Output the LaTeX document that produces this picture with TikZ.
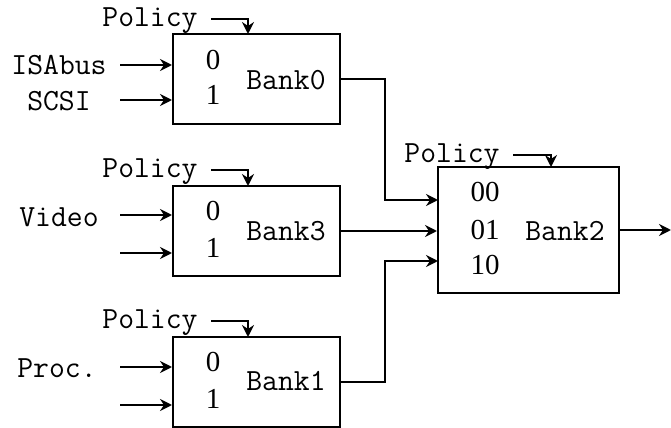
\documentclass[tikz,border=0pt]{standalone}
\usepackage{fontspec}
\setmainfont{Liberation Serif}
\usetikzlibrary{arrows.meta,calc}
\tikzset{
  bank/.style={draw, line width=1pt, inner sep=0pt, minimum width=83.5pt, minimum height=45pt},
  lbl/.style={font=\ttfamily\fontsize{15.4}{18}\selectfont, inner sep=0pt},
  sel/.style={font=\rmfamily\fontsize{14.5}{17}\selectfont, inner sep=0pt},
  wire/.style={line width=1pt, -{Stealth[length=6pt,width=6pt,inset=2pt]}},
}

\begin{document}
\begin{tikzpicture}[x=0.5pt,y=-0.5pt]
      \useasboundingbox (0,0) rectangle (671,428);
      \node [bank] (b0) at (256.5,79) {};
      \node [bank] (b3) at (256.5,231) {};
      \node [bank] (b1) at (256.5,382) {};
      \node [bank, minimum width=90.5pt, minimum height=63pt] (b2) at (528.5,230) {};
      \node [lbl] (n0) at (286,80) {Bank0};
      \node [lbl] (n3) at (286,231) {Bank3};
      \node [lbl] (n1) at (286,381) {Bank1};
      \node [lbl] (n2) at (565,231) {Bank2};
      \node [sel] (s00) at (213,60) {0};
      \node [sel] (s01) at (213,95) {1};
      \node [sel] (s30) at (213,211) {0};
      \node [sel] (s31) at (213,248) {1};
      \node [sel] (s10) at (213,362) {0};
      \node [sel] (s11) at (213,399) {1};
      \node [sel] (s200) at (485,192) {00};
      \node [sel] (s201) at (485,230) {01};
      \node [sel] (s210) at (485,265) {10};
      % inputs
      \node [lbl] (isa) at (59,65) {ISAbus};
      \node [lbl] (scsi) at (59,101) {SCSI};
      \node [lbl] (video) at (59,217) {Video};
      \node [lbl] (proc) at (57,368) {Proc.};
      \coordinate (i0a) at (120,65);
      \coordinate (i0b) at (120,100);
      \coordinate (i3a) at (120,215);
      \coordinate (i3b) at (120,253);
      \coordinate (i1a) at (120,367);
      \coordinate (i1b) at (120,405);
      \draw [wire] (i0a) -- (i0a -| b0.west);
      \draw [wire] (i0b) -- (i0b -| b0.west);
      \draw [wire] (i3a) -- (i3a -| b3.west);
      \draw [wire] (i3b) -- (i3b -| b3.west);
      \draw [wire] (i1a) -- (i1a -| b1.west);
      \draw [wire] (i1b) -- (i1b -| b1.west);
      % policy
      \node [lbl] (p0) at (150,21) {Policy};
      \node [lbl] (p3) at (150,172) {Policy};
      \node [lbl] (p1) at (150,323) {Policy};
      \node [lbl] (p2) at (452,157) {Policy};
      \coordinate (p0s) at (211,19);
      \coordinate (p3s) at (211,170);
      \coordinate (p1s) at (211,321);
      \coordinate (p2s) at (513,155);
      \draw [wire] (p0s) -| (248,34);
      \draw [wire] (p3s) -| (248,186);
      \draw [wire] (p1s) -| (248,337);
      \draw [wire] (p2s) -| (551,167);
      % to bank2
      \coordinate (in00) at (438,200);
      \coordinate (in10) at (438,261);
      \draw [wire] (b0.east) -| ($(in00)+(-53,0)$) -- (in00);
      \draw [wire] (b3.east) -- (b3.east -| b2.west);
      \draw [wire] (b1.east) -| ($(in10)+(-53,0)$) -- (in10);
      \coordinate (out) at (671,230);
      \draw [wire] (b2.east) -- (out);
    \end{tikzpicture}
\end{document}
